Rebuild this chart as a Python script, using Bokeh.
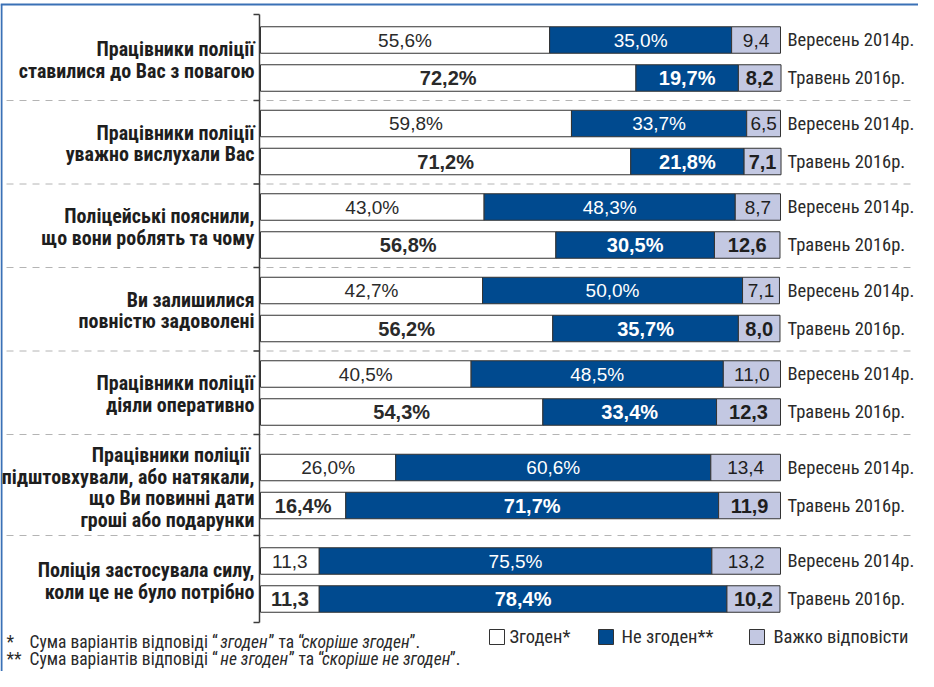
from bokeh.plotting import figure
from bokeh.models import Range1d, ColumnDataSource
from bokeh.core.properties import value
from bokeh.embed import file_html
from bokeh.resources import INLINE

# ---------------- data ----------------
questions = [
    "Працівники поліції\nставилися до Вас з повагою",
    "Працівники поліції\nуважно вислухали Вас",
    "Поліцейські пояснили,\nщо вони роблять та чому",
    "Ви залишилися\nповністю задоволені",
    "Працівники поліції\nдіяли оперативно",
    "Працівники поліції \nпідштовхували, або натякали,\nщо Ви повинні дати\nгроші або подарунки",
    "Поліція застосувала силу,\nколи це не було потрібно",
]
periods = ["Вересень 2014р.", "Травень 2016р."]

agree_2014 = [55.6, 59.8, 43.0, 42.7, 40.5, 26.0, 11.3]
disagree_2014 = [35.0, 33.7, 48.3, 50.0, 48.5, 60.6, 75.5]
hard_2014 = [9.4, 6.5, 8.7, 7.1, 11.0, 13.4, 13.2]

agree_2016 = [72.2, 71.2, 56.8, 56.2, 54.3, 16.4, 11.3]
disagree_2016 = [19.7, 21.8, 30.5, 35.7, 33.4, 71.7, 78.4]
hard_2016 = [8.2, 7.1, 12.6, 8.0, 12.3, 11.9, 10.2]

legend_labels = ["Згоден*", "Не згоден**", "Важко відповісти"]

footnote_1 = [("*", "normal"), ("Сума варіантів відповіді “", "normal"), ("згоден", "italic"),
              ("” та “", "normal"), ("скоріше згоден", "italic"), ("”.", "normal")]
footnote_2 = [("**", "normal"), ("Сума варіантів відповіді “", "normal"), ("не згоден", "italic"),
              ("” та “", "normal"), ("скоріше не згоден", "italic"), ("”.", "normal")]

# ---------------- style / layout ----------------
W, H = 918, 671
PX0, PXPCT = 260.0, 5.2          # pixel of 0 %, pixels per percent
C_WHITE, C_BLUE, C_LIGHT = "#ffffff", "#004a8f", "#c3c8e2"
C_FRAME = "#3a71b6"
NARROW = "Roboto Condensed, DejaVu Sans Condensed, Roboto"
SANS = "Liberation Sans"


def X(fx):
    return (fx - PX0) / PXPCT


p = figure(width=W, height=H, output_backend="svg", toolbar_location=None,
           x_range=Range1d(X(0), X(W)), y_range=Range1d(H, 0),
           min_border=0, min_border_left=0, min_border_right=0,
           min_border_top=0, min_border_bottom=0)
p.axis.visible = False
p.grid.visible = False
p.outline_line_color = None
p.background_fill_color = "white"
p.border_fill_color = "white"

# group vertical layout
nlines = [q.count("\n") + 1 for q in questions]
BASE_PITCH, EXTRA, ROW_GAP, BAR_H = 83.5, 5.0, 38.0, 26.5
centers = [39.5]
for i in range(1, len(questions)):
    centers.append(centers[-1] + BASE_PITCH + EXTRA * (nlines[i - 1] - 2) + EXTRA * (nlines[i] - 2))
y14 = centers
y16 = [c + ROW_GAP for c in centers]

# frame lines
p.segment(x0=[X(0)], y0=[4], x1=[X(W)], y1=[4], line_color=C_FRAME, line_width=2)
p.segment(x0=[X(1)], y0=[4], x1=[X(1)], y1=[H], line_color=C_FRAME, line_width=2)

# separators
seps = [y16[i] + 22.5 + 3.75 * (nlines[i] - 2) for i in range(len(questions) - 1)]
p.segment(x0=[X(6)] * len(seps), y0=seps, x1=[X(912)] * len(seps), y1=seps,
          line_color="#b4b4b4", line_width=1, line_dash="7 6")

# axis line and ticks
ax_top = y14[0] - 25.5
ax_bot = y16[-1] + 23.5
p.segment(x0=[X(259)], y0=[ax_top], x1=[X(259)], y1=[ax_bot], line_color="#3c3c3c", line_width=1.5)
ticks = [ax_top] + seps + [ax_bot]
p.segment(x0=[X(253)] * len(ticks), y0=ticks, x1=[X(259)] * len(ticks), y1=ticks,
          line_color="#3c3c3c", line_width=1.5)

# bars
rows = [(y14, agree_2014, disagree_2014, hard_2014, "normal", "19px"),
        (y16, agree_2016, disagree_2016, hard_2016, "bold", "20px")]
for ys, a, d, h, weight, fsize in rows:
    for vals, lefts, color, tcolor in [
        (a, [0.0] * len(a), C_WHITE, "#2a2a2a"),
        (d, a, C_BLUE, "#ffffff"),
        (h, [ai + di for ai, di in zip(a, d)], C_LIGHT, "#1e1e1e"),
    ]:
        rights = [l + v for l, v in zip(lefts, vals)]
        src = ColumnDataSource(dict(y=ys, left=lefts, right=rights,
                                    xc=[(l + r) / 2 for l, r in zip(lefts, rights)],
                                    lab=[f"{v:.1f}".replace(".", ",") + ("%" if v >= 15 else "") for v in vals]))
        p.hbar(y="y", left="left", right="right", height=BAR_H, source=src,
               fill_color=color, line_color="#333333", line_width=1)
        p.text(x="xc", y="y", text="lab", source=src, text_align="center", text_baseline="middle",
               text_font=value(SANS), text_font_size=fsize, text_font_style=weight,
               text_color=tcolor)

# period labels
PER_FX = 787
for ys, lab in [(y14, periods[0]), (y16, periods[1])]:
    p.text(x=[X(PER_FX)] * len(ys), y=ys, text=[lab] * len(ys), text_align="left",
           text_baseline="middle", text_font=value(NARROW), text_font_size="18.5px",
           text_color="#2a2a2a")

# question labels
LINE_H = 21.5
lx, ly, lt = [], [], []
for i, q in enumerate(questions):
    parts = q.split("\n")
    mid = (y14[i] + y16[i]) / 2 + 1
    for j, t in enumerate(parts):
        lx.append(X(254))
        ly.append(mid + (j - (len(parts) - 1) / 2) * LINE_H)
        lt.append(t)
p.text(x=lx, y=ly, text=lt, text_align="right", text_baseline="middle",
       text_font=value(NARROW), text_font_size="20px", text_font_style="bold", text_color="#1e1e1e")

# legend
leg_y = 636.5
box_fx = [496.5, 605.5, 756.5]
txt_fx = [509, 621, 773]
p.scatter(x=[X(f) for f in box_fx], y=[leg_y] * 3, marker="square", size=15,
          fill_color=[C_WHITE, C_BLUE, C_LIGHT], line_color="#333333", line_width=1)
p.text(x=[X(f) for f in txt_fx], y=[leg_y] * 3, text=legend_labels, text_align="left",
       text_baseline="middle", text_font=value(NARROW), text_font_size="18.5px", text_color="#2a2a2a")

# footnotes: pieces laid out one after another using estimated advance widths
FN_SIZE = 17.5


def est_width(t, size):
    w = 0.0
    for ch in t:
        w += 0.25 if ch in " “”.,*" else 0.45
    return w * size


for pieces, fy in [(footnote_1, 641.5), (footnote_2, 658.5)]:
    fx = 6
    for k, (t, st) in enumerate(pieces):
        if k == 1:
            fx = 29
        p.text(x=[X(fx)], y=[fy], text=[t], text_align="left", text_baseline="middle",
               text_font=value(NARROW), text_font_size=f"{FN_SIZE}px", text_font_style=st,
               text_color="#2a2a2a")
        fx += est_width(t, FN_SIZE) + (1.0 if st == "italic" else 0)

open("out.html", "w").write(file_html(p, INLINE))
